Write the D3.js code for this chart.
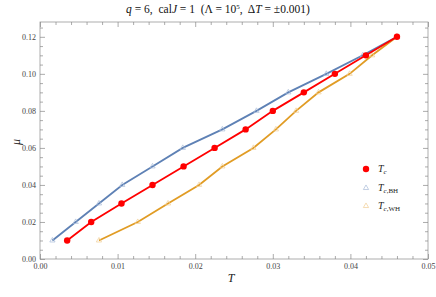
<!DOCTYPE html>
<html lang="en">
<head>
<meta charset="UTF-8">
<title>mu vs T</title>
<style>
  body { margin:0; background:#fff; }
  svg text { font-family: "Liberation Serif", "DejaVu Serif", serif; white-space: pre; }
</style>
</head>
<body>
<script src="https://cdn.jsdelivr.net/npm/d3@7"></script>
<script>
// data
var muVals = [0.01, 0.02, 0.03, 0.04, 0.05, 0.06, 0.07, 0.08, 0.09, 0.10, 0.11, 0.12];
var tC  = [0.0035, 0.0066, 0.0105, 0.0145, 0.0185, 0.0225, 0.0265, 0.0300, 0.0340, 0.0380, 0.0420, 0.0460];
var tBH = [0.0016, 0.0046, 0.0076, 0.0106, 0.0145, 0.0184, 0.0235, 0.0279, 0.0320, 0.0369, 0.0416, 0.0460];
var tWH = [0.0076, 0.0126, 0.0165, 0.0205, 0.0235, 0.0275, 0.0304, 0.0330, 0.0359, 0.0399, 0.0428, 0.0460];
var xTicks = [0, 0.01, 0.02, 0.03, 0.04, 0.05];
var yTicks = [0, 0.02, 0.04, 0.06, 0.08, 0.10, 0.12];

var w = 436, h = 297;
var pLeft = 40, pRight = 428, pTop = 22, pBottom = 259;

var xScale = d3.scaleLinear().domain([0, 0.05]).range([pLeft, pRight]);
var yScale = d3.scaleLinear().domain([0, 0.128]).range([pBottom, pTop]);

var svg = d3.select("body").append("svg").attr("width", w).attr("height", h);

// frame
svg.append("rect").attr("x", pLeft).attr("y", pTop)
   .attr("width", pRight - pLeft).attr("height", pBottom - pTop)
   .attr("fill", "none").attr("stroke", "#999").attr("stroke-width", 0.8);

var xMinor = d3.range(0, 0.0501, 0.002).filter(function (v) { return Math.abs(v*100 - Math.round(v*100)) > 1e-6; });
var yMinor = d3.range(0, 0.1281, 0.005).filter(function (v) { return Math.abs(v*50 - Math.round(v*50)) > 1e-6; });

function fmt(d) { return d3.format(".2f")(d); }

// bottom axis
svg.append("g").attr("class", "axis").attr("transform", "translate(0," + pBottom + ")")
   .call(d3.axisBottom(xScale).tickValues(xTicks).tickFormat(fmt).tickSizeInner(-5).tickSizeOuter(0).tickPadding(4));
svg.append("g").attr("class", "axis").attr("transform", "translate(0," + pBottom + ")")
   .call(d3.axisBottom(xScale).tickValues(xMinor).tickFormat("").tickSizeInner(-3).tickSizeOuter(0));
// top axis
svg.append("g").attr("class", "axis").attr("transform", "translate(0," + pTop + ")")
   .call(d3.axisTop(xScale).tickValues(xTicks).tickFormat("").tickSizeInner(-5).tickSizeOuter(0));
svg.append("g").attr("class", "axis").attr("transform", "translate(0," + pTop + ")")
   .call(d3.axisTop(xScale).tickValues(xMinor).tickFormat("").tickSizeInner(-3).tickSizeOuter(0));
// left axis
svg.append("g").attr("class", "axis").attr("transform", "translate(" + pLeft + ",0)")
   .call(d3.axisLeft(yScale).tickValues(yTicks).tickFormat(fmt).tickSizeInner(-5).tickSizeOuter(0).tickPadding(4));
svg.append("g").attr("class", "axis").attr("transform", "translate(" + pLeft + ",0)")
   .call(d3.axisLeft(yScale).tickValues(yMinor).tickFormat("").tickSizeInner(-3).tickSizeOuter(0));
// right axis
svg.append("g").attr("class", "axis").attr("transform", "translate(" + pRight + ",0)")
   .call(d3.axisRight(yScale).tickValues(yTicks).tickFormat("").tickSizeInner(-5).tickSizeOuter(0));
svg.append("g").attr("class", "axis").attr("transform", "translate(" + pRight + ",0)")
   .call(d3.axisRight(yScale).tickValues(yMinor).tickFormat("").tickSizeInner(-3).tickSizeOuter(0));

svg.selectAll(".axis .domain").remove();
svg.selectAll(".axis line").attr("stroke", "#888").attr("stroke-width", 0.7);
svg.selectAll(".axis text").attr("font-family", "Liberation Serif, serif").attr("font-size", "8px").attr("fill", "#444");

var line = d3.line().x(function (d) { return xScale(d[0]); }).y(function (d) { return yScale(d[1]); });

function pairs(ts) { return ts.map(function (t, i) { return [t, muVals[i]]; }); }

var blue = "#5e81b5", orange = "#e19c24", red = "#ff0000";

svg.append("path").datum(pairs(tWH)).attr("d", line)
   .attr("fill", "none").attr("stroke", orange).attr("stroke-width", 1.8);
svg.append("path").datum(pairs(tBH)).attr("d", line)
   .attr("fill", "none").attr("stroke", blue).attr("stroke-width", 1.8);

var tri = d3.symbol().type(d3.symbolTriangle).size(12);
svg.selectAll(".wh").data(pairs(tWH)).enter().append("path")
   .attr("transform", function (d) { return "translate(" + xScale(d[0]) + "," + yScale(d[1]) + ")"; })
   .attr("d", tri).attr("fill", "none").attr("stroke", "#f0cf96").attr("stroke-width", 0.7);
svg.selectAll(".bh").data(pairs(tBH)).enter().append("path")
   .attr("transform", function (d) { return "translate(" + xScale(d[0]) + "," + yScale(d[1]) + ")"; })
   .attr("d", tri).attr("fill", "none").attr("stroke", "#a9bcd9").attr("stroke-width", 0.7);

svg.append("path").datum(pairs(tC)).attr("d", line)
   .attr("fill", "none").attr("stroke", red).attr("stroke-width", 1.8);
svg.selectAll(".tc").data(pairs(tC)).enter().append("circle")
   .attr("cx", function (d) { return xScale(d[0]); })
   .attr("cy", function (d) { return yScale(d[1]); })
   .attr("r", 3.2).attr("fill", red);

// legend
var lg = svg.append("g").attr("font-size", "10px").attr("fill", "#222");
lg.append("circle").attr("cx", 366).attr("cy", 169).attr("r", 3.2).attr("fill", red);
lg.append("path").attr("transform", "translate(366,188)").attr("d", tri)
  .attr("fill", "none").attr("stroke", "#a9bcd9").attr("stroke-width", 0.7);
lg.append("path").attr("transform", "translate(366,206)").attr("d", tri)
  .attr("fill", "none").attr("stroke", "#f0cf96").attr("stroke-width", 0.7);
var l1 = lg.append("text").attr("x", 378).attr("y", 172);
l1.append("tspan").attr("font-style", "italic").text("T");
l1.append("tspan").attr("font-style", "italic").attr("font-size", "7px").attr("dy", 2).text("c");
var l2 = lg.append("text").attr("x", 378).attr("y", 191);
l2.append("tspan").attr("font-style", "italic").text("T");
l2.append("tspan").attr("font-style", "italic").attr("font-size", "7px").attr("dy", 2).text("c");
l2.append("tspan").attr("font-size", "7px").text(",BH");
var l3 = lg.append("text").attr("x", 378).attr("y", 209);
l3.append("tspan").attr("font-style", "italic").text("T");
l3.append("tspan").attr("font-style", "italic").attr("font-size", "7px").attr("dy", 2).text("c");
l3.append("tspan").attr("font-size", "7px").text(",WH");

// axis labels
svg.append("text").attr("x", 231).attr("y", 282).attr("text-anchor", "middle")
   .attr("font-size", "12px").attr("font-style", "italic").attr("fill", "#222").text("T");
svg.append("text").attr("x", 20).attr("y", 142).attr("text-anchor", "middle")
   .attr("font-size", "12px").attr("font-style", "italic").attr("fill", "#222")
   .attr("transform", "rotate(-90,20,142)").text("μ");

// title
var title = svg.append("text").attr("x", 218).attr("y", 13).attr("text-anchor", "middle")
   .attr("font-size", "11.5px").attr("fill", "#111");
title.append("tspan").attr("font-style", "italic").text("q");
title.append("tspan").text(" = 6,  cal");
title.append("tspan").attr("font-style", "italic").text("J");
title.append("tspan").text(" = 1  (Λ = 10");
title.append("tspan").attr("font-size", "7px").attr("dy", -4).text("5");
title.append("tspan").attr("dy", 4).text(",  Δ");
title.append("tspan").attr("font-style", "italic").text("T");
title.append("tspan").text(" = ±0.001)");
</script>
</body>
</html>
